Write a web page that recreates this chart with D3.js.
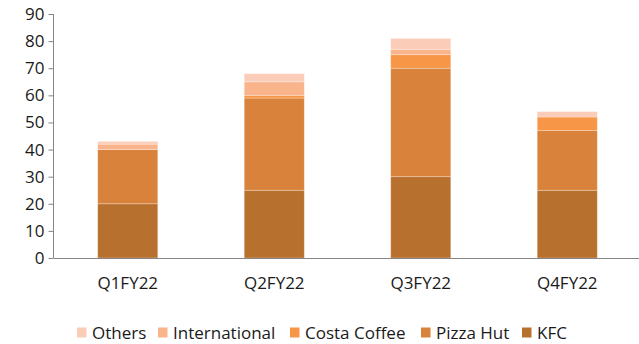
<!DOCTYPE html>
<html><head><meta charset="utf-8">
<script src="https://cdn.jsdelivr.net/npm/d3@7"></script>
<style>body{margin:0;background:#fff}svg{display:block}text{font-family:"Open Sans",sans-serif;fill:#1a1a1a}</style>
</head><body><svg id="c" width="639" height="344"></svg>
<script>
const categories = ["Q1FY22","Q2FY22","Q3FY22","Q4FY22"];
const kfc = [20,25,30,25];
const pizzaHut = [20,34,40,22];
const costaCoffee = [0,1,5,5];
const international = [2,5,2,0];
const others = [1,3,4,2];
const seriesNames = ["KFC","Pizza Hut","Costa Coffee","International","Others"];
const yTicks = [0,10,20,30,40,50,60,70,80,90];
const colors = ["#b8702f","#d9823c","#f79646","#f9b48b","#fbcdb9"];

const svg = d3.select("#c");
const seriesVals = [kfc,pizzaHut,costaCoffee,international,others];
const rows = categories.map((c,i)=>{const r={cat:c};seriesNames.forEach((s,j)=>r[s]=seriesVals[j][i]);return r;});
const stack = d3.stack().keys(seriesNames)(rows);

const x = d3.scaleBand().domain(categories).range([54.5,640.5]).paddingInner(0.59).paddingOuter(0.295);
const y = d3.scaleLinear().domain([0,90]).range([258,14]);

svg.append("g").selectAll("g").data(stack).join("g").attr("fill",(d,i)=>colors[i])
  .selectAll("rect").data(d=>d).join("rect")
  .attr("x",d=>x(d.data.cat)).attr("width",x.bandwidth())
  .attr("y",d=>y(d[1])).attr("height",d=>Math.max(0,y(d[0])-y(d[1])))
  .attr("stroke","#ffffff").attr("stroke-opacity",0.35).attr("stroke-width",d=>(d[1]-d[0])>0?0.8:0);

const ya = svg.append("g").attr("transform","translate(53.5,0)")
  .call(d3.axisLeft(y).tickValues(yTicks).tickSize(5).tickPadding(4));
ya.select(".domain").attr("stroke","#868686").attr("d","M0,14V258");
ya.selectAll(".tick line").attr("stroke","#868686");
ya.selectAll("text").style("font-size","17px").attr("fill","#1a1a1a");

const xa = svg.append("g").attr("transform","translate(0,258.5)")
  .call(d3.axisBottom(x).tickSize(0).tickPadding(18));
xa.select(".domain").attr("stroke","#868686").attr("d","M53.5,0H640");
xa.selectAll("text").style("font-size","17px").attr("fill","#1a1a1a");

const legendOrder = ["Others","International","Costa Coffee","Pizza Hut","KFC"];
const legendX = [77,158,290,421,522];
const lg = svg.append("g");
legendOrder.forEach((n,i)=>{
  const ci = seriesNames.indexOf(n);
  lg.append("rect").attr("x",legendX[i]).attr("y",327.5).attr("width",9.5).attr("height",10).attr("fill",colors[ci]);
  lg.append("text").attr("x",legendX[i]+15).attr("y",338.5).style("font-size","17px").text(n);
});
</script></body></html>
